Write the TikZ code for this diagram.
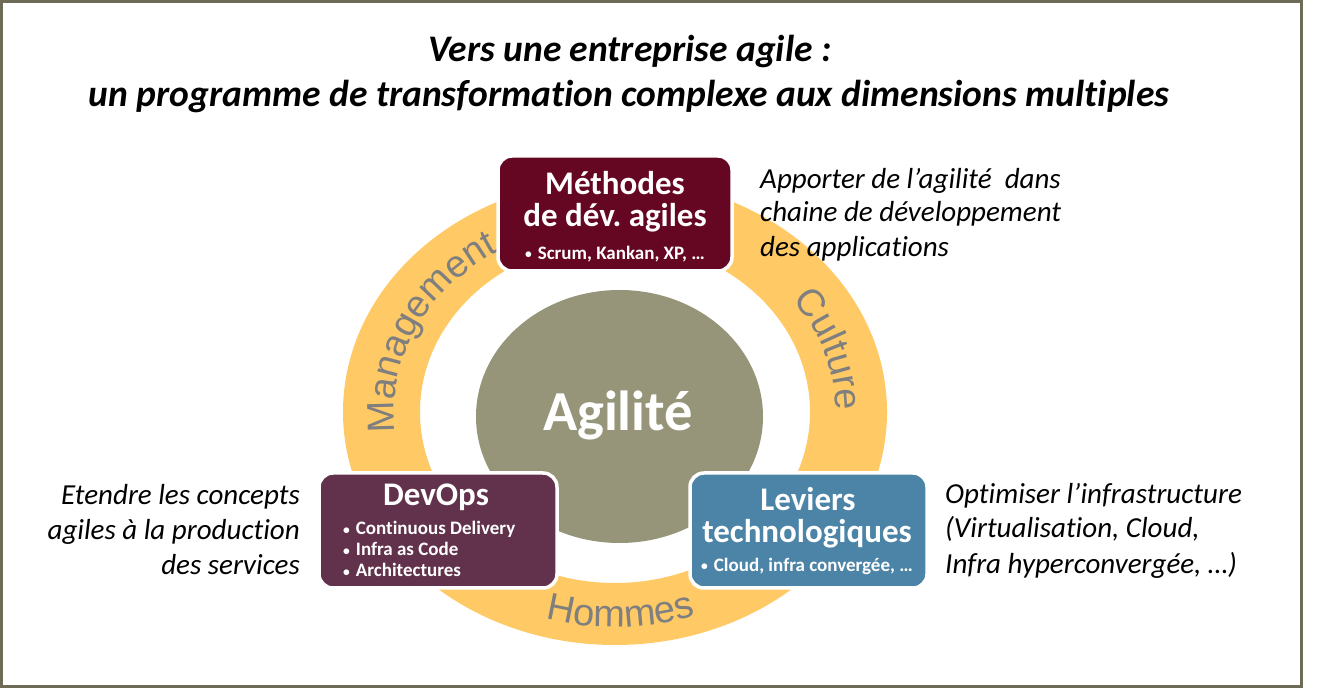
\documentclass[tikz,border=0pt]{standalone}
\usepackage{fontspec}
\setmainfont{Carlito}[Ligatures=NoCommon]
\newfontfamily\arialf{Liberation Sans}
\usetikzlibrary{decorations.text}
\definecolor{framec}{HTML}{6D6B55}
\definecolor{ringc}{HTML}{FFCA66}
\definecolor{agilc}{HTML}{969579}
\definecolor{methc}{HTML}{650622}
\definecolor{devc}{HTML}{62324C}
\definecolor{levc}{HTML}{4C84A8}
\definecolor{ringtxt}{HTML}{7F7F7F}
\newcommand{\bul}{{\fontsize{13.5}{13.5}\selectfont\raisebox{0.5pt}{•}}\hspace{6pt}}
\tikzset{
  boxshape/.style={draw=white, line width=3.5pt, rounded corners=14pt, inner sep=0pt},
  boxtitle/.style={text=white, font=\bfseries\fontsize{33}{33}\selectfont, inner sep=0pt},
  boxitem/.style={text=white, font=\bfseries\fontsize{19}{21}\selectfont, inner sep=0pt, align=left},
  desc/.style={font=\itshape\fontsize{29}{29}\selectfont, inner sep=0pt, text height=20pt, text depth=7pt},
  titletxt/.style={font=\bfseries\itshape\fontsize{37.5}{37.5}\selectfont, inner sep=0pt},
  ringlabel/.style={decorate, decoration={text along path, text align=center, text color=ringtxt}}
}
\begin{document}
\frenchspacing
\begin{tikzpicture}[x=1pt,y=1pt]
\useasboundingbox (0,0) rectangle (1320,688);
\fill[white] (0,0) rectangle (1320,688);
\draw[framec, line width=3pt] (1.5,1.5) rectangle (1301.5,686.5);

% title
\node[titletxt] (t1) at (630,636) {Vers une entreprise agile :};
\node[titletxt] (t2) at (629,591) {un programme de transformation complexe aux dimensions multiples};

% ring
\fill[ringc, even odd rule] (615,276) ellipse[x radius=272, y radius=233]
                            (615,276) ellipse[x radius=195, y radius=171];
% centre
\fill[agilc] (619.5,271.5) ellipse[x radius=143.5, y radius=126.5];
\node[text=white, font=\bfseries\fontsize{56.5}{56.5}\selectfont, inner sep=0pt] (ag) at (618,273) {Agilité};

% ring labels
\path[ringlabel, decoration={text={|\arialf\fontsize{38}{38}\selectfont|Management}}]
  (615,276) ++(226:221 and 189) arc[start angle=226, end angle=86, x radius=221, y radius=189];
\path[ringlabel, decoration={text={|\arialf\fontsize{38}{38}\selectfont|Culture}}]
  (615,276) ++(70:221 and 189) arc[start angle=70, end angle=-36, x radius=221, y radius=189];
\path[ringlabel, decoration={text={|\arialf\fontsize{38}{38}\selectfont|Hommes}}]
  (615,276) ++(235:246 and 215) arc[start angle=235, end angle=308, x radius=246, y radius=215];

% boxes
\node[boxshape, fill=methc, minimum width=234pt, minimum height=115pt] (meth) at (615,474.5) {};
\node[boxshape, fill=devc, minimum width=238pt, minimum height=115pt] (dev) at (438,157.5) {};
\node[boxshape, fill=levc, minimum width=237pt, minimum height=115pt] (lev) at (808.5,157.5) {};

% box texts
\node[boxtitle] (m1) at (615,505) {Méthodes};
\node[boxtitle] (m2) at (615,470) {de dév. agiles};
\node[boxitem] (m3) at (615,434) {\bul Scrum, Kankan, XP, …};

\node[boxtitle] (d1) at (436,191) {DevOps};
\node[boxitem, anchor=west] (d2) at (343,139)
  {\bul Continuous Delivery\\\bul Infra as Code\\\bul Architectures};

\node[boxtitle] (l1) at (808,189) {Leviers};
\node[boxtitle] (l2) at (807,154) {technologiques};
\node[boxitem] (l3) at (807,122) {\bul Cloud, infra convergée, …};

% descriptions
\node[desc, anchor=west] (a1) at (760,506) {Apporter de l’agilité\ \ dans};
\node[desc, anchor=west] (a2) at (760,473) {chaine de développement};
\node[desc, anchor=west] (a3) at (760,438) {des applications};

\node[desc, anchor=east] (e1) at (300,190) {Etendre les concepts};
\node[desc, anchor=east] (e2) at (300,155) {agiles à la production};
\node[desc, anchor=east] (e3) at (300,120) {des services};

\node[desc, anchor=west] (o1) at (945,191) {Optimiser l’infrastructure};
\node[desc, anchor=west] (o2) at (945,157) {(Virtualisation, Cloud,};
\node[desc, anchor=west] (o3) at (945,121) {Infra hyperconvergée, …)};
\end{tikzpicture}
\end{document}
